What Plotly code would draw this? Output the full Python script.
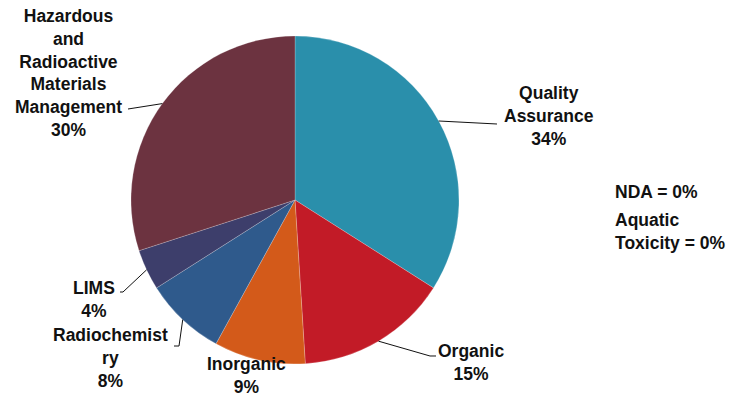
import math
import plotly.graph_objects as go

# Share of work by program area (percent)
categories = ["Quality Assurance", "Organic", "Inorganic", "Radiochemistry", "LIMS",
              "Hazardous and Radioactive Materials Management"]
label_text = ["Quality<br>Assurance", "Organic", "Inorganic", "Radiochemist<br>ry", "LIMS",
              "Hazardous<br>and<br>Radioactive<br>Materials<br>Management"]
shares = [34, 15, 9, 8, 4, 30]
colors = ["#2A8FAB", "#C21B27", "#D35A1A", "#2F5A8C", "#3D3E6B", "#6C3340"]
zero_notes = ["NDA = 0%", "Aquatic<br>Toxicity = 0%"]

W, H = 734, 398
CX, CY, R = 295, 200, 164
FONT = dict(family="Liberation Sans, Arial, sans-serif", size=17.5, color="#111111", weight="bold")


def paper(x, y):
    return x / W, 1 - y / H


fig = go.Figure(go.Pie(
    labels=categories,
    values=shares,
    sort=False,
    direction="clockwise",
    rotation=0,
    marker=dict(colors=colors, line=dict(color="rgba(255,255,255,0.35)", width=0.6)),
    textinfo="none",
    hoverinfo="label+percent",
    showlegend=False,
    domain=dict(x=[(CX - R) / W, (CX + R) / W], y=[1 - (CY + R) / H, 1 - (CY - R) / H]),
))

# label block centres and leader-line elbows (pixels); None = no leader line
label_pos = [(549, 116), (471, 362), (246, 375), (110, 358), (94, 299), (68, 73)]
leader_pts = [
    [(497, 124)],
    [(430, 356), (436, 356)],
    None,
    [(179, 346), (174, 346)],
    [(123, 292), (120, 292)],
    [(128, 109)],
]

total = sum(shares)
cum = 0
annotations = []
shapes = []
for i, v in enumerate(shares):
    mid = (cum + v / 2) / total * 2 * math.pi
    cum += v
    ex, ey = CX + R * math.sin(mid), CY - R * math.cos(mid)
    lx, ly = label_pos[i]
    x, y = paper(lx, ly)
    annotations.append(dict(x=x, y=y, xref="paper", yref="paper", showarrow=False,
                            text=f"{label_text[i]}<br>{v}%", font=FONT, align="center",
                            xanchor="center", yanchor="middle"))
    if leader_pts[i]:
        pts = [(ex, ey)] + leader_pts[i]
        path = "M " + " L ".join(f"{paper(a, b)[0]:.5f},{paper(a, b)[1]:.5f}" for a, b in pts)
        shapes.append(dict(type="path", path=path, xref="paper", yref="paper",
                           line=dict(color="#111111", width=1)))

for note, (nx, ny) in zip(zero_notes, [(613, 192), (613, 231)]):
    x, y = paper(nx, ny)
    annotations.append(dict(x=x, y=y, xref="paper", yref="paper", showarrow=False,
                            text=note, font=FONT, align="left",
                            xanchor="left", yanchor="middle"))

fig.update_layout(
    width=W, height=H,
    margin=dict(l=0, r=0, t=0, b=0),
    paper_bgcolor="white", plot_bgcolor="white",
    annotations=annotations, shapes=shapes,
)

fig.write_html("out.html")
